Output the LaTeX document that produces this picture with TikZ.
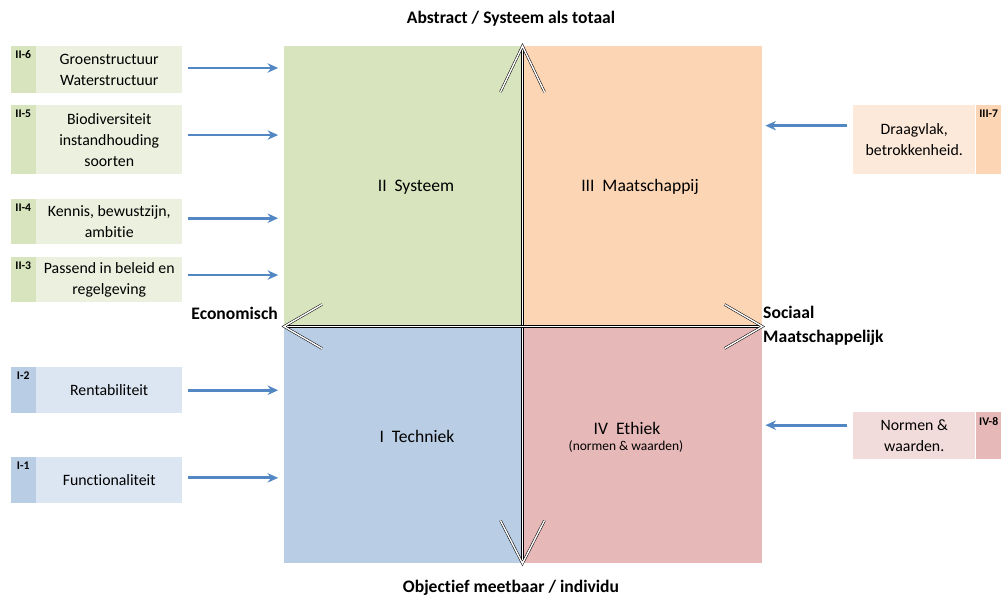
\documentclass[tikz,border=0pt]{standalone}
\usepackage{fontspec}
\setmainfont{Carlito}[Ligatures=NoCommon]
\usetikzlibrary{arrows.meta, positioning, calc}
\definecolor{groen}{HTML}{D7E4BD}
\definecolor{groenlicht}{HTML}{EBF1DE}
\definecolor{oranje}{HTML}{FCD5B5}
\definecolor{oranjelicht}{HTML}{FDE9D9}
\definecolor{blauw}{HTML}{B9CDE5}
\definecolor{blauwlicht}{HTML}{DCE6F2}
\definecolor{roze}{HTML}{E6B9B8}
\definecolor{rozelicht}{HTML}{F2DCDB}
\definecolor{pijlblauw}{HTML}{5287C4}
\tikzset{
  vak/.style = {rectangle, inner sep=2pt, align=center, text centered, font=\fontsize{13.5}{18}\selectfont},
  tag/.style = {rectangle, inner sep=0pt},
  tagtekst/.style = {font=\fontsize{10}{12}\selectfont\bfseries, anchor=north, inner sep=0pt, yshift=-4pt},
  kwadrant/.style = {rectangle, inner sep=0pt, anchor=north west},
  kwtekst/.style = {font=\fontsize{15}{18}\selectfont, inner sep=0pt},
  as_tekst/.style = {font=\fontsize{15}{21}\selectfont\bfseries, inner sep=0pt, align=left},
  pijl/.style = {-{Stealth[length=9pt, width=8pt]}, draw=pijlblauw, line width=2.4pt},
  dubbel/.style = {draw=black, double=white, line width=0.45pt, double distance=1.2pt, line join=miter}
}

\begin{document}
\begin{tikzpicture}[x=0.03cm, y=-0.03cm]
    \useasboundingbox (0,0) rectangle (1001,599);
    % kwadranten
    \node[kwadrant, fill=groen, minimum width=7.14cm, minimum height=8.4cm] (q2) at (284,46) {};
    \node[kwadrant, fill=oranje, minimum width=7.2cm, minimum height=8.4cm] (q3) at (522,46) {};
    \node[kwadrant, fill=blauw, minimum width=7.14cm, minimum height=7.11cm] (q1) at (284,326) {};
    \node[kwadrant, fill=roze, minimum width=7.2cm, minimum height=7.11cm] (q4) at (522,326) {};
    \node[kwtekst] (l2) at (416,187) {II\ \ Systeem};
    \node[kwtekst] (l3) at (640,187) {III\ \ Maatschappij};
    \node[kwtekst] (l1) at (417,436) {I\ \ Techniek};
    \node[kwtekst] (l4) at (627,428) {IV\ \ Ethiek};
    \node[font=\fontsize{11.5}{14}\selectfont, inner sep=0pt] (l4b) at (626,447) {(normen \& waarden)};

    % assen
    \coordinate (boven) at (q2.north east);
    \coordinate (onder) at (q1.south east);
    \coordinate (links) at (q2.south west);
    \coordinate (rechts) at (q3.south east);
    \draw[dubbel] (boven) -- (onder);
    \draw[dubbel] (links) -- (rechts);
    \draw[dubbel] ([shift={(-22,46)}]boven) -- (boven) -- ([shift={(22,46)}]boven);
    \draw[dubbel] ([shift={(-22,-43)}]onder) -- (onder) -- ([shift={(22,-43)}]onder);
    \draw[dubbel] ([shift={(38,-22)}]links) -- (links) -- ([shift={(38,22)}]links);
    \draw[dubbel] ([shift={(-38,-22)}]rechts) -- (rechts) -- ([shift={(-38,22)}]rechts);

    \node[as_tekst] (abstract) at (511,19) {Abstract / Systeem als totaal};
    \node[as_tekst] (objectief) at (511,588) {Objectief meetbaar / individu};
    \node[as_tekst, anchor=east] (econ) at (278,313) {Economisch};
    \node[as_tekst, anchor=west] (sociaal) at (763,326) {Sociaal\\Maatschappelijk};

    % vakken links
    \node[vak, fill=groenlicht, anchor=north west, minimum width=4.38cm, minimum height=1.41cm] (v26) at (36,46) {Groenstructuur\\Waterstructuur};
    \node[vak, fill=groenlicht, anchor=north west, minimum width=4.38cm, minimum height=2.07cm] (v25) at (36,105) {Biodiversiteit\\instandhouding\\soorten};
    \node[vak, fill=groenlicht, anchor=north west, minimum width=4.38cm, minimum height=1.35cm] (v24) at (36,199) {Kennis, bewustzijn,\\ambitie};
    \node[vak, fill=groenlicht, anchor=north west, minimum width=4.38cm, minimum height=1.35cm] (v23) at (36,257) {Passend in beleid en\\regelgeving};
    \node[vak, fill=blauwlicht, anchor=north west, minimum width=4.38cm, minimum height=1.38cm] (v12) at (36,367) {Rentabiliteit};
    \node[vak, fill=blauwlicht, anchor=north west, minimum width=4.38cm, minimum height=1.38cm] (v11) at (36,457) {Functionaliteit};

    \node[tag, fill=groen, anchor=north east, minimum width=0.75cm, minimum height=1.41cm] (t26) at (v26.north west) {};
    \node[tag, fill=groen, anchor=north east, minimum width=0.75cm, minimum height=2.07cm] (t25) at (v25.north west) {};
    \node[tag, fill=groen, anchor=north east, minimum width=0.75cm, minimum height=1.35cm] (t24) at (v24.north west) {};
    \node[tag, fill=groen, anchor=north east, minimum width=0.75cm, minimum height=1.35cm] (t23) at (v23.north west) {};
    \node[tag, fill=blauw, anchor=north east, minimum width=0.75cm, minimum height=1.38cm] (t12) at (v12.north west) {};
    \node[tag, fill=blauw, anchor=north east, minimum width=0.75cm, minimum height=1.38cm] (t11) at (v11.north west) {};
    \node[tagtekst] at (t26.north) {II-6};
    \node[tagtekst] at (t25.north) {II-5};
    \node[tagtekst] at (t24.north) {II-4};
    \node[tagtekst] at (t23.north) {II-3};
    \node[tagtekst] at (t12.north) {I-2};
    \node[tagtekst] at (t11.north) {I-1};

    % vakken rechts
    \node[vak, fill=oranjelicht, anchor=north west, minimum width=3.66cm, minimum height=2.07cm] (v37) at (853,105) {Draagvlak,\\betrokkenheid.};
    \node[vak, fill=rozelicht, anchor=north west, minimum width=3.66cm, minimum height=1.41cm] (v48) at (853,412) {Normen \&\\waarden.};
    \node[tag, fill=oranje, anchor=north west, minimum width=0.78cm, minimum height=2.07cm] (t37) at (v37.north east) {};
    \node[tag, fill=roze, anchor=north west, minimum width=0.78cm, minimum height=1.41cm] (t48) at (v48.north east) {};
    \node[tagtekst] at (t37.north) {III-7};
    \node[tagtekst] at (t48.north) {IV-8};

    % pijlen
    \draw[pijl, shorten <=4.3pt, shorten >=5pt] ([yshift=1.5pt]v26.east) -- ([yshift=1.5pt]v26.east -| q2.west);
    \draw[pijl, shorten <=4.3pt, shorten >=5pt] ([yshift=4pt]v25.east) -- ([yshift=4pt]v25.east -| q2.west);
    \draw[pijl, shorten <=4.3pt, shorten >=5pt] ([yshift=3pt]v24.east) -- ([yshift=3pt]v24.east -| q2.west);
    \draw[pijl, shorten <=4.3pt, shorten >=5pt] ([yshift=4pt]v23.east) -- ([yshift=4pt]v23.east -| q2.west);
    \draw[pijl, shorten <=4.3pt, shorten >=5pt] (v12.east) -- (v12.east -| q1.west);
    \draw[pijl, shorten <=4.3pt, shorten >=5pt] ([yshift=2pt]v11.east) -- ([yshift=2pt]v11.east -| q1.west);
    \draw[pijl, shorten <=5pt, shorten >=2.5pt] ([yshift=12pt]v37.west) -- ([yshift=12pt]v37.west -| q3.east);
    \draw[pijl, shorten <=5pt, shorten >=2.5pt] ([yshift=9pt]v48.west) -- ([yshift=9pt]v48.west -| q4.east);
\end{tikzpicture}
\end{document}
